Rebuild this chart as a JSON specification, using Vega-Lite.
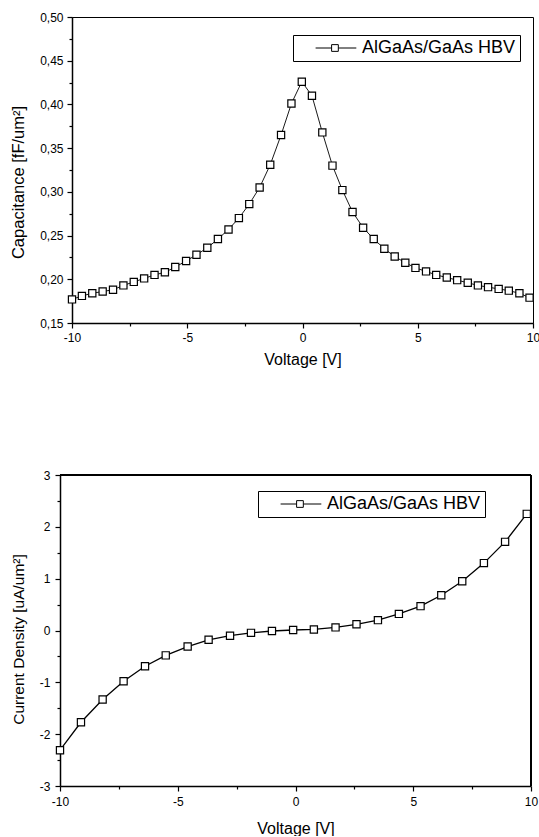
{
  "$schema": "https://vega.github.io/schema/vega-lite/v6.json",
  "background": "white",
  "padding": {"left": 10, "top": 10, "right": 0, "bottom": 0},
  "datasets": {
    "cap": [
      {"V": -10, "C": 0.177, "series": "AlGaAs/GaAs HBV"},
      {"V": -9.57, "C": 0.181, "series": "AlGaAs/GaAs HBV"},
      {"V": -9.12, "C": 0.184, "series": "AlGaAs/GaAs HBV"},
      {"V": -8.67, "C": 0.186, "series": "AlGaAs/GaAs HBV"},
      {"V": -8.22, "C": 0.188, "series": "AlGaAs/GaAs HBV"},
      {"V": -7.77, "C": 0.193, "series": "AlGaAs/GaAs HBV"},
      {"V": -7.32, "C": 0.197, "series": "AlGaAs/GaAs HBV"},
      {"V": -6.87, "C": 0.201, "series": "AlGaAs/GaAs HBV"},
      {"V": -6.42, "C": 0.205, "series": "AlGaAs/GaAs HBV"},
      {"V": -5.97, "C": 0.208, "series": "AlGaAs/GaAs HBV"},
      {"V": -5.52, "C": 0.214, "series": "AlGaAs/GaAs HBV"},
      {"V": -5.05, "C": 0.221, "series": "AlGaAs/GaAs HBV"},
      {"V": -4.6, "C": 0.228, "series": "AlGaAs/GaAs HBV"},
      {"V": -4.13, "C": 0.236, "series": "AlGaAs/GaAs HBV"},
      {"V": -3.67, "C": 0.246, "series": "AlGaAs/GaAs HBV"},
      {"V": -3.21, "C": 0.257, "series": "AlGaAs/GaAs HBV"},
      {"V": -2.76, "C": 0.27, "series": "AlGaAs/GaAs HBV"},
      {"V": -2.31, "C": 0.286, "series": "AlGaAs/GaAs HBV"},
      {"V": -1.86, "C": 0.305, "series": "AlGaAs/GaAs HBV"},
      {"V": -1.4, "C": 0.331, "series": "AlGaAs/GaAs HBV"},
      {"V": -0.93, "C": 0.365, "series": "AlGaAs/GaAs HBV"},
      {"V": -0.48, "C": 0.401, "series": "AlGaAs/GaAs HBV"},
      {"V": -0.03, "C": 0.426, "series": "AlGaAs/GaAs HBV"},
      {"V": 0.41, "C": 0.41, "series": "AlGaAs/GaAs HBV"},
      {"V": 0.86, "C": 0.368, "series": "AlGaAs/GaAs HBV"},
      {"V": 1.3, "C": 0.33, "series": "AlGaAs/GaAs HBV"},
      {"V": 1.73, "C": 0.302, "series": "AlGaAs/GaAs HBV"},
      {"V": 2.17, "C": 0.277, "series": "AlGaAs/GaAs HBV"},
      {"V": 2.63, "C": 0.259, "series": "AlGaAs/GaAs HBV"},
      {"V": 3.09, "C": 0.246, "series": "AlGaAs/GaAs HBV"},
      {"V": 3.55, "C": 0.235, "series": "AlGaAs/GaAs HBV"},
      {"V": 4.0, "C": 0.226, "series": "AlGaAs/GaAs HBV"},
      {"V": 4.46, "C": 0.219, "series": "AlGaAs/GaAs HBV"},
      {"V": 4.9, "C": 0.213, "series": "AlGaAs/GaAs HBV"},
      {"V": 5.36, "C": 0.209, "series": "AlGaAs/GaAs HBV"},
      {"V": 5.8, "C": 0.205, "series": "AlGaAs/GaAs HBV"},
      {"V": 6.26, "C": 0.202, "series": "AlGaAs/GaAs HBV"},
      {"V": 6.71, "C": 0.199, "series": "AlGaAs/GaAs HBV"},
      {"V": 7.17, "C": 0.196, "series": "AlGaAs/GaAs HBV"},
      {"V": 7.61, "C": 0.193, "series": "AlGaAs/GaAs HBV"},
      {"V": 8.05, "C": 0.191, "series": "AlGaAs/GaAs HBV"},
      {"V": 8.51, "C": 0.189, "series": "AlGaAs/GaAs HBV"},
      {"V": 8.95, "C": 0.187, "series": "AlGaAs/GaAs HBV"},
      {"V": 9.41, "C": 0.184, "series": "AlGaAs/GaAs HBV"},
      {"V": 9.85, "C": 0.179, "series": "AlGaAs/GaAs HBV"}
    ],
    "cur": [
      {"V": -10, "J": -2.31, "series": "AlGaAs/GaAs HBV"},
      {"V": -9.11, "J": -1.77, "series": "AlGaAs/GaAs HBV"},
      {"V": -8.19, "J": -1.33, "series": "AlGaAs/GaAs HBV"},
      {"V": -7.3, "J": -0.98, "series": "AlGaAs/GaAs HBV"},
      {"V": -6.39, "J": -0.69, "series": "AlGaAs/GaAs HBV"},
      {"V": -5.51, "J": -0.48, "series": "AlGaAs/GaAs HBV"},
      {"V": -4.58, "J": -0.31, "series": "AlGaAs/GaAs HBV"},
      {"V": -3.69, "J": -0.18, "series": "AlGaAs/GaAs HBV"},
      {"V": -2.78, "J": -0.1, "series": "AlGaAs/GaAs HBV"},
      {"V": -1.89, "J": -0.045, "series": "AlGaAs/GaAs HBV"},
      {"V": -1.0, "J": -0.01, "series": "AlGaAs/GaAs HBV"},
      {"V": -0.1, "J": 0.01, "series": "AlGaAs/GaAs HBV"},
      {"V": 0.78, "J": 0.02, "series": "AlGaAs/GaAs HBV"},
      {"V": 1.7, "J": 0.06, "series": "AlGaAs/GaAs HBV"},
      {"V": 2.59, "J": 0.12, "series": "AlGaAs/GaAs HBV"},
      {"V": 3.5, "J": 0.2, "series": "AlGaAs/GaAs HBV"},
      {"V": 4.39, "J": 0.32, "series": "AlGaAs/GaAs HBV"},
      {"V": 5.31, "J": 0.47, "series": "AlGaAs/GaAs HBV"},
      {"V": 6.19, "J": 0.68, "series": "AlGaAs/GaAs HBV"},
      {"V": 7.08, "J": 0.95, "series": "AlGaAs/GaAs HBV"},
      {"V": 8.0, "J": 1.3, "series": "AlGaAs/GaAs HBV"},
      {"V": 8.9, "J": 1.71, "series": "AlGaAs/GaAs HBV"},
      {"V": 9.82, "J": 2.25, "series": "AlGaAs/GaAs HBV"}
    ]
  },
  "config": {
    "font": "Liberation Sans",
    "view": {"stroke": "black", "strokeWidth": 1},
    "axis": {
      "domainColor": "black", "domainWidth": 1.5,
      "tickColor": "black", "tickWidth": 1.2,
      "labelColor": "black", "titleColor": "black",
      "grid": false, "labelFontSize": 12, "titleFontSize": 16,
      "titleFontWeight": "normal", "labelFlush": false, "labelOverlap": false,
      "labelFont": "Liberation Sans", "titleFont": "Liberation Sans"
    },
    "legend": {
      "title": null, "orient": "none",
      "strokeColor": "black", "strokeWidth": 1, "padding": 4, "fillColor": "white",
      "symbolType": "M1.2,0L3.2,0M4.04,0L6.29,0M3.2,-0.42L4.04,-0.42L4.04,0.42L3.2,0.42Z",
      "symbolSize": 256, "symbolStrokeWidth": 1, "symbolStrokeColor": "black", "symbolFillColor": "white",
      "labelOffset": 47, "labelFontSize": 18, "labelFont": "Liberation Sans", "labelColor": "black", "labelLimit": 400
    }
  },
  "spacing": 101,
  "vconcat": [
    {
      "width": 461, "height": 306,
      "data": {"name": "cap"},
      "encoding": {
        "x": {"field": "V", "type": "quantitative", "scale": {"domain": [-10, 10], "nice": false},
          "axis": {"title": "Voltage [V]", "values": [-10, -7.5, -5, -2.5, 0, 2.5, 5, 7.5, 10],
            "labelExpr": "datum.value % 5 == 0 ? toString(datum.value) : ''",
            "tickSize": {"condition": {"test": "datum.value % 5 != 0", "value": 3}, "value": 5},
            "labelPadding": 4, "titlePadding": 8}},
        "y": {"field": "C", "type": "quantitative", "scale": {"domain": [0.15, 0.5], "nice": false, "zero": false},
          "axis": {"title": "Capacitance [fF/um²]", "titleFontSize": 16.5, "titleY": 165, "values": [0.15, 0.175, 0.2, 0.225, 0.25, 0.275, 0.3, 0.325, 0.35, 0.375, 0.4, 0.425, 0.45, 0.475, 0.5],
            "labelExpr": "round(datum.value*1000) % 50 == 0 ? replace(format(datum.value, '.2f'), '.', ',') : ''",
            "tickSize": {"condition": {"test": "round(datum.value*1000) % 50 != 0", "value": 3}, "value": 5},
            "labelPadding": 4, "titlePadding": 13}}
      },
      "layer": [
        {"mark": {"type": "line", "color": "black", "strokeWidth": 0.9}},
        {"mark": {"type": "point", "shape": "square", "filled": true, "fill": "white", "size": 52, "strokeWidth": 1.2, "opacity": 1},
          "encoding": {"stroke": {"field": "series", "type": "nominal", "scale": {"range": ["black"]},
            "legend": {"legendX": 221, "legendY": 18}}}}
      ]
    },
    {
      "width": 459, "height": 311,
      "view": {"stroke": null},
      "data": {"name": "cur"},
      "layer": [
        {"mark": {"type": "rule", "color": "black", "strokeWidth": 1},
          "encoding": {"x": {"datum": -10, "type": "quantitative"}, "x2": {"datum": 10}, "y": {"datum": 3, "type": "quantitative"}}},
        {"mark": {"type": "rule", "color": "black", "strokeWidth": 1},
          "encoding": {"x": {"datum": 10, "type": "quantitative"}, "y": {"datum": -3, "type": "quantitative"}, "y2": {"datum": 3}}},
        {"mark": {"type": "line", "color": "black", "strokeWidth": 1.3},
          "encoding": {"x": {"field": "V", "type": "quantitative"}, "y": {"field": "J", "type": "quantitative"}}},
        {"mark": {"type": "point", "shape": "square", "filled": true, "fill": "white", "size": 52, "strokeWidth": 1.2, "opacity": 1},
          "encoding": {"x": {"field": "V", "type": "quantitative"}, "y": {"field": "J", "type": "quantitative"},
            "stroke": {"field": "series", "type": "nominal", "scale": {"range": ["black"]},
            "legend": {"legendX": 186, "legendY": 16}}}}
      ],
      "encoding": {
        "x": {"field": "V", "type": "quantitative", "scale": {"domain": [-10, 10], "range": [-12, 459], "nice": false},
          "axis": {"title": "Voltage [V]", "values": [-10, -7.5, -5, -2.5, 0, 2.5, 5, 7.5, 10],
            "labelExpr": "datum.value % 5 == 0 ? toString(datum.value) : ''",
            "tickSize": {"condition": {"test": "datum.value % 5 != 0", "value": 3}, "value": 5},
            "labelPadding": 5, "titlePadding": 13}},
        "y": {"field": "J", "type": "quantitative", "scale": {"domain": [-3, 3], "nice": false, "zero": false},
          "axis": {"title": "Current Density [uA/um²]", "titleFontSize": 15.5, "titleY": 164, "offset": 12, "values": [-3, -2.5, -2, -1.5, -1, -0.5, 0, 0.5, 1, 1.5, 2, 2.5, 3],
            "labelExpr": "datum.value % 1 == 0 ? toString(datum.value) : ''",
            "tickSize": {"condition": {"test": "datum.value % 1 != 0", "value": 3}, "value": 5},
            "labelPadding": 5, "titlePadding": 13}}
      }
    }
  ],
  "resolve": {"scale": {"stroke": "independent"}, "legend": {"stroke": "independent"}}
}
